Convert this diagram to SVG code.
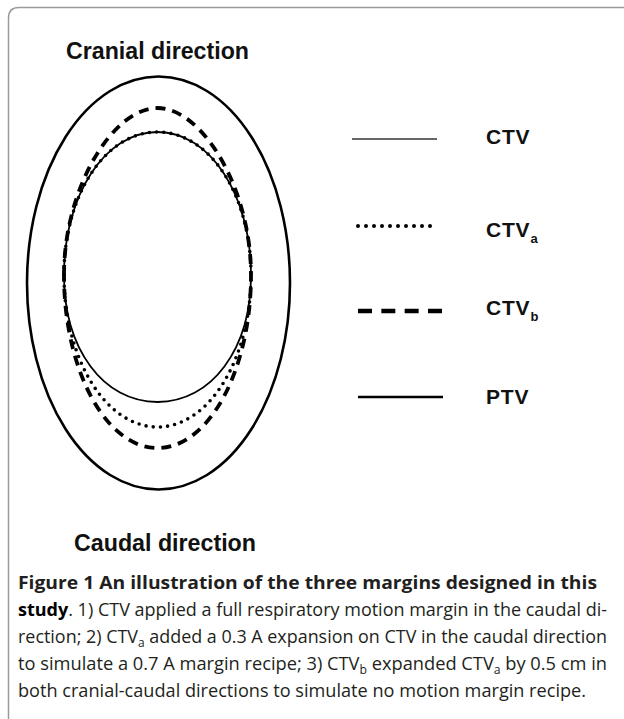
<svg xmlns="http://www.w3.org/2000/svg" width="624" height="719" viewBox="0 0 624 719">
<style>
.lbl{font-family:"Liberation Sans",Arial,sans-serif;font-weight:bold;fill:#111}
.cap{font-family:"Open Sans","Noto Sans",sans-serif;font-size:18px;fill:#231f20}
.sub{font-size:12px}
.shape{fill:none;stroke:#000}
</style>
<rect width="624" height="719" fill="#fff"/>
<path d="M8.5 719 V18 Q8.5 7.5 19 7.5 H624" fill="none" stroke="#9a9a9a" stroke-width="1.5"/>
<text class="lbl" x="66" y="59" font-size="24.5" textLength="183" lengthAdjust="spacingAndGlyphs">Cranial direction</text>
<text class="lbl" x="74" y="551" font-size="24.5" textLength="182" lengthAdjust="spacingAndGlyphs">Caudal direction</text>
<g id="ptv"><ellipse class="shape" cx="158.5" cy="283" rx="131.5" ry="206.5" stroke-width="2.6"/></g>
<g id="ctv"><path class="shape" stroke-width="1.8" d="M64 275 C64 195 105.1 132 157.5 132 C209.9 132 251 195 251 275 C251 349 211.7 402 157.5 402 C103.3 402 64 349 64 275 Z"/></g>
<g id="ctv_a"><path class="shape" stroke-width="3.6" stroke-linecap="round" stroke-dasharray="0 7.2" d="M64 275 C64 195 105.1 132 157.5 132 C209.9 132 251 195 251 275 C251 359 209.1 427 157.5 427 C105.9 427 64 359 64 275 Z"/></g>
<g id="ctv_b"><path class="shape" stroke-width="3.8" stroke-dasharray="10 7" d="M64 275 C64 188 112.9 108 157.5 108 C202.1 108 251 188 251 275 C251 370 209.1 448 157.5 448 C105.9 448 64 370 64 275 Z"/></g>
<g id="legend">
<g id="leg_ctv"><line x1="352" y1="139" x2="437" y2="139" stroke="#333" stroke-width="1.6"/><text class="lbl" x="486" y="144" font-size="21" letter-spacing="0.8">CTV</text></g>
<g id="leg_ctva"><line x1="358" y1="226" x2="438" y2="226" stroke="#000" stroke-width="4" stroke-linecap="round" stroke-dasharray="0 8"/><text class="lbl" x="486" y="237" font-size="21" letter-spacing="0.8">CTV<tspan font-size="13" baseline-shift="-6" letter-spacing="0">a</tspan></text></g>
<g id="leg_ctvb"><line x1="358" y1="311" x2="442" y2="311" stroke="#000" stroke-width="4.5" stroke-dasharray="14 9.33"/><text class="lbl" x="486" y="315" font-size="21" letter-spacing="0.8">CTV<tspan font-size="13" baseline-shift="-6" letter-spacing="0">b</tspan></text></g>
<g id="leg_ptv"><line x1="358" y1="397" x2="443" y2="397" stroke="#000" stroke-width="2.6"/><text class="lbl" x="486" y="404" font-size="21" letter-spacing="0.8">PTV</text></g>
</g>
<g id="caption">
<text class="cap" x="18" y="589" font-weight="bold" fill="#000" textLength="579" lengthAdjust="spacingAndGlyphs">Figure 1 An illustration of the three margins designed in this</text>
<text class="cap" x="18" y="616" textLength="589" lengthAdjust="spacingAndGlyphs"><tspan font-weight="bold" fill="#000">study</tspan>. 1) CTV applied a full respiratory motion margin in the caudal di-</text>
<text class="cap" x="18" y="643" textLength="589" lengthAdjust="spacingAndGlyphs">rection; 2) CTV<tspan class="sub" baseline-shift="-4">a</tspan> added a 0.3 A expansion on CTV in the caudal direction</text>
<text class="cap" x="18" y="670" textLength="589" lengthAdjust="spacingAndGlyphs">to simulate a 0.7 A margin recipe; 3) CTV<tspan class="sub" baseline-shift="-4">b</tspan> expanded CTV<tspan class="sub" baseline-shift="-4">a</tspan> by 0.5 cm in</text>
<text class="cap" x="18" y="697" textLength="568" lengthAdjust="spacingAndGlyphs">both cranial-caudal directions to simulate no motion margin recipe.</text>
</g>
</svg>
